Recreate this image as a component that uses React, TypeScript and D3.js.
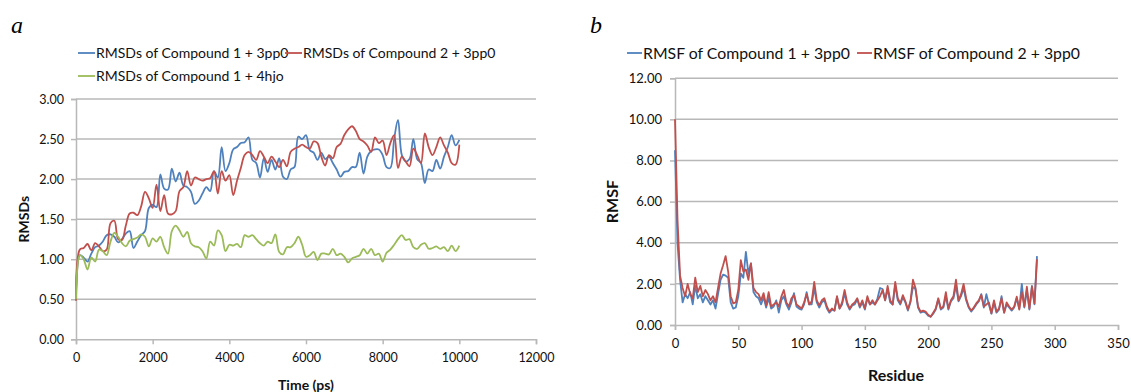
import React, { useEffect, useRef } from 'react';
import * as d3 from 'd3';

// panel a: RMSDs sampled every 100 ps
const timePs = d3.range(0, 10001, 100);

const rmsdC1_3pp0 = [
  0.50, 1.05, 1.02, 0.97, 1.07, 1.15, 1.17, 1.22, 1.30, 1.31,
  1.28, 1.21, 1.25, 1.32, 1.35, 1.14, 1.22, 1.30, 1.35, 1.64,
  1.68, 1.65, 2.06, 1.88, 1.87, 2.13, 1.97, 2.08, 1.92, 1.90,
  1.84, 1.69, 1.73, 1.82, 1.90, 1.85, 2.10, 2.02, 2.40, 2.10,
  2.20, 2.37, 2.40, 2.45, 2.46, 2.52, 2.24, 2.20, 2.02, 2.26,
  2.09, 2.24, 2.12, 2.26, 2.03, 2.00, 2.12, 2.15, 2.53, 2.50,
  2.55, 2.36, 2.33, 2.24, 2.33, 2.25, 2.28, 2.20, 2.12, 2.03,
  2.09, 2.10, 2.15, 2.15, 2.33, 2.07, 2.28, 2.35, 2.37, 2.37,
  2.30, 2.15, 2.14, 2.50, 2.74, 2.30, 2.22, 2.25, 2.50, 2.25,
  2.20, 1.95, 2.12, 2.10, 2.24, 2.13, 2.28, 2.40, 2.55, 2.42,
  2.49,
];

const rmsdC2_3pp0 = [
  0.48, 1.12, 1.14, 1.19, 1.11, 1.20, 1.16, 1.10, 1.12, 1.45,
  1.48, 1.25, 1.24, 1.42, 1.57, 1.58, 1.55, 1.66, 1.84, 1.76,
  1.64, 1.93, 1.60, 1.80, 1.57, 1.56, 1.60, 1.85, 1.90, 2.10,
  1.92, 2.02, 2.00, 1.98, 2.00, 2.01, 2.10, 1.82, 2.10, 1.98,
  2.05, 1.80, 1.98, 2.14, 2.30, 2.34, 2.30, 2.24, 2.35, 2.28,
  2.20, 2.28, 2.22, 2.15, 2.24, 2.16, 2.34, 2.38, 2.40, 2.43,
  2.40, 2.38, 2.47, 2.45, 2.28, 2.17, 2.30, 2.26, 2.40, 2.44,
  2.55, 2.62, 2.66, 2.60, 2.50, 2.47, 2.42, 2.34, 2.52, 2.45,
  2.48, 2.30, 2.45, 2.55, 2.14, 2.28, 2.22, 2.16, 2.38, 2.30,
  2.20, 2.57, 2.40, 2.30, 2.40, 2.52, 2.42, 2.33, 2.20, 2.18,
  2.43,
];

const rmsdC1_4hjo = [
  0.50, 1.05, 1.00, 0.87, 1.02, 0.97, 1.12, 1.10, 1.05, 1.22,
  1.33, 1.28, 1.20, 1.16, 1.23, 1.25, 1.27, 1.31, 1.28, 1.16,
  1.26, 1.22, 1.28, 1.15, 1.07, 1.35, 1.42, 1.36, 1.28, 1.34,
  1.20, 1.16, 1.15, 1.10, 1.01, 1.22, 1.17, 1.36, 1.30, 1.10,
  1.18, 1.17, 1.19, 1.15, 1.30, 1.28, 1.30, 1.25, 1.20, 1.17,
  1.22, 1.20, 1.31, 1.09, 1.06, 1.15, 1.15, 1.20, 1.28, 1.18,
  1.03, 1.05, 1.09, 0.99, 1.07, 1.07, 1.06, 1.13, 1.05, 1.07,
  1.03, 0.96, 1.01, 1.03, 1.05, 1.13, 1.07, 1.13, 1.05, 1.07,
  0.97, 1.08, 1.12, 1.18, 1.25, 1.30, 1.24, 1.25, 1.15, 1.13,
  1.18, 1.20, 1.13, 1.14, 1.16, 1.13, 1.15, 1.10, 1.17, 1.10,
  1.17,
];

const rmsdLabels = [
  'RMSDs of Compound 1 + 3pp0',
  'RMSDs of Compound 2 + 3pp0',
  'RMSDs of Compound 1 + 4hjo',
];

// panel b: RMSF per residue (every second residue)
const residues = d3.range(0, 287, 2);

const rmsfC1 = [
  8.50, 3.95, 2.20, 1.10, 1.50, 1.30, 1.60, 1.00, 1.90, 1.30,
  1.50, 1.10, 1.40, 1.20, 1.00, 1.20, 0.80, 1.50, 2.20, 2.45,
  2.40, 2.30, 1.10, 0.80, 0.85, 1.40, 2.50, 2.30, 3.56, 2.50,
  3.00, 1.60, 1.40, 1.30, 1.00, 1.35, 0.85, 1.30, 0.80, 0.90,
  1.20, 0.60, 1.20, 1.40, 1.00, 0.75, 1.10, 1.55, 0.90, 0.80,
  0.75, 1.00, 1.60, 1.00, 1.00, 1.80, 1.10, 0.85, 1.10, 1.20,
  0.80, 0.60, 0.75, 0.70, 1.35, 0.80, 1.00, 1.55, 1.00, 0.75,
  0.95, 1.00, 1.25, 0.85, 1.10, 0.75, 1.30, 1.00, 1.10, 1.00,
  1.30, 1.80, 1.75, 1.20, 1.75, 1.10, 1.00, 1.95, 1.20, 1.00,
  1.35, 1.10, 0.70, 1.10, 1.85, 1.75, 0.85, 0.60, 0.65, 0.60,
  0.45, 0.40, 0.55, 0.75, 1.25, 0.75, 0.85, 1.40, 0.75, 1.15,
  1.30, 1.90, 1.15, 1.40, 1.80, 1.20, 0.85, 0.65, 0.80, 1.00,
  1.15, 1.50, 0.85, 1.50, 1.00, 0.55, 1.10, 0.60, 0.75, 1.40,
  0.60, 1.00, 0.85, 0.70, 0.85, 1.30, 0.80, 2.00, 0.85, 1.70,
  0.75, 1.90, 1.00, 3.35,
];

const rmsfC2 = [
  10.0, 5.10, 2.40, 1.80, 1.40, 2.00, 1.50, 1.30, 2.30, 1.60,
  1.90, 1.40, 1.70, 1.50, 1.20, 1.40, 1.10, 1.80, 2.50, 2.90,
  3.35, 2.60, 1.40, 1.05, 1.10, 1.70, 3.15, 2.60, 2.70, 2.20,
  3.00, 1.80, 1.60, 1.50, 1.20, 1.55, 0.95, 1.60, 0.90, 1.00,
  1.10, 0.90, 1.38, 1.70, 1.10, 0.90, 1.30, 1.45, 1.00, 0.90,
  0.80, 1.10, 1.50, 1.00, 1.15, 2.10, 1.20, 0.95, 1.20, 1.30,
  0.90, 0.65, 0.80, 0.70, 1.40, 0.80, 1.10, 1.70, 1.10, 0.80,
  1.00, 1.10, 1.30, 0.90, 1.20, 0.80, 1.40, 1.00, 1.20, 1.00,
  1.20, 1.40, 1.70, 1.20, 1.90, 1.20, 1.00, 2.10, 1.30, 1.05,
  1.45, 1.15, 0.75, 1.15, 2.20, 1.80, 0.90, 0.65, 0.70, 0.65,
  0.50, 0.40, 0.60, 0.80, 1.30, 0.80, 0.90, 1.60, 0.80, 1.20,
  1.40, 2.20, 1.20, 1.50, 2.00, 1.30, 0.90, 0.70, 0.85, 1.05,
  1.20, 1.46, 0.90, 1.00, 1.10, 0.57, 1.20, 0.65, 0.80, 1.30,
  0.60, 1.10, 0.90, 0.75, 0.90, 1.38, 0.75, 1.60, 0.90, 1.86,
  0.80, 1.86, 1.05, 3.20,
];

const rmsfLabels = ['RMSF of Compound 1 + 3pp0', 'RMSF of Compound 2 + 3pp0'];

const BLUE = '#4f81bd';
const RED = '#c0504d';
const GREEN = '#9bbb59';
const GRID = '#b8b8b8';
const INK = '#111';
const FONT = 'Lato, "Open Sans", sans-serif';

const App = () => {
  const ref = useRef<SVGSVGElement>(null);

  useEffect(() => {
    const svg = d3.select(ref.current);
    svg.selectAll('*').remove();

    // ---------- panel a ----------
    const xa = d3.scaleLinear().domain([0, 12000]).range([76, 536]);
    const ya = d3.scaleLinear().domain([0, 3]).range([339.3, 99]);

    const ga = svg.append('g');

    ga.append('g')
      .selectAll('line')
      .data(d3.range(0.5, 3.01, 0.5))
      .join('line')
      .attr('x1', xa(0)).attr('x2', xa(12000))
      .attr('y1', d => ya(d)).attr('y2', d => ya(d))
      .attr('stroke', GRID).attr('stroke-width', 1.5);

    ga.append('g')
      .attr('transform', `translate(0,${ya(0)})`)
      .call(d3.axisBottom(xa).tickValues(d3.range(0, 12001, 2000)).tickSize(5).tickPadding(9).tickFormat(d3.format('d')))
      .call(g => g.selectAll('path,line').attr('stroke', GRID).attr('stroke-width', 1.5))
      .call(g => g.selectAll('text').attr('font-family', FONT).attr('font-size', 12.5).attr('fill', INK));

    ga.append('g')
      .attr('transform', `translate(${xa(0)},0)`)
      .call(d3.axisLeft(ya).tickValues(d3.range(0, 3.01, 0.5)).tickSize(5).tickPadding(7).tickFormat(d3.format('.2f')))
      .call(g => g.selectAll('path,line').attr('stroke', GRID).attr('stroke-width', 1.5))
      .call(g => g.selectAll('text').attr('font-family', FONT).attr('font-size', 12.5).attr('fill', INK));

    const lineA = d3.line<number>()
      .x((_, i) => xa(timePs[i]))
      .y(d => ya(d))
      .curve(d3.curveCatmullRom.alpha(0.5));

    [[rmsdC1_3pp0, BLUE], [rmsdC2_3pp0, RED], [rmsdC1_4hjo, GREEN]].forEach(([vals, c]) => {
      ga.append('path')
        .datum(vals as number[])
        .attr('fill', 'none')
        .attr('stroke', c as string)
        .attr('stroke-width', 1.8)
        .attr('d', lineA);
    });

    ga.append('text')
      .attr('transform', `translate(29,${(ya(0) + ya(3)) / 2}) rotate(-90)`)
      .attr('text-anchor', 'middle')
      .attr('font-family', FONT).attr('font-size', 14).attr('font-weight', 'bold').attr('fill', INK)
      .text('RMSDs');

    ga.append('text')
      .attr('x', 306).attr('y', 390)
      .attr('text-anchor', 'middle')
      .attr('font-family', FONT).attr('font-size', 14).attr('font-weight', 'bold').attr('fill', INK)
      .text('Time (ps)');

    const legA = [
      { x: 78, y: 53, c: BLUE },
      { x: 285, y: 53, c: RED },
      { x: 78, y: 76, c: GREEN },
    ];
    legA.forEach((p, i) => {
      ga.append('line')
        .attr('x1', p.x).attr('x2', p.x + 17)
        .attr('y1', p.y).attr('y2', p.y)
        .attr('stroke', p.c).attr('stroke-width', 1.8);
      ga.append('text')
        .attr('x', p.x + 18).attr('y', p.y)
        .attr('dy', '0.35em')
        .attr('font-family', FONT).attr('font-size', 14).attr('fill', INK)
        .text(rmsdLabels[i]);
    });

    svg.append('text')
      .attr('x', 11).attr('y', 33)
      .attr('font-family', '"Liberation Serif", serif').attr('font-style', 'italic').attr('font-size', 24)
      .text('a');

    // ---------- panel b ----------
    const xb = d3.scaleLinear().domain([0, 350]).range([675, 1118]);
    const yb = d3.scaleLinear().domain([0, 12]).range([325, 78.2]);

    const gb = svg.append('g');

    gb.append('g')
      .selectAll('line')
      .data(d3.range(2, 12.01, 2))
      .join('line')
      .attr('x1', xb(0)).attr('x2', xb(350))
      .attr('y1', d => yb(d)).attr('y2', d => yb(d))
      .attr('stroke', GRID).attr('stroke-width', 1.5);

    gb.append('g')
      .attr('transform', `translate(0,${yb(0)})`)
      .call(d3.axisBottom(xb).tickValues(d3.range(0, 351, 50)).tickSize(5).tickPadding(9).tickFormat(d3.format('d')))
      .call(g => g.selectAll('path,line').attr('stroke', GRID).attr('stroke-width', 1.5))
      .call(g => g.selectAll('text').attr('font-family', FONT).attr('font-size', 13).attr('fill', INK));

    gb.append('g')
      .attr('transform', `translate(${xb(0)},0)`)
      .call(d3.axisLeft(yb).tickValues(d3.range(0, 12.01, 2)).tickSize(5).tickPadding(8).tickFormat(d3.format('.2f')))
      .call(g => g.selectAll('path,line').attr('stroke', GRID).attr('stroke-width', 1.5))
      .call(g => g.selectAll('text').attr('font-family', FONT).attr('font-size', 13).attr('fill', INK));

    const lineB = d3.line<number>()
      .x((_, i) => xb(residues[i]))
      .y(d => yb(d));

    [[rmsfC1, BLUE], [rmsfC2, RED]].forEach(([vals, c]) => {
      gb.append('path')
        .datum(vals as number[])
        .attr('fill', 'none')
        .attr('stroke', c as string)
        .attr('stroke-width', 1.8)
        .attr('stroke-linejoin', 'round')
        .attr('d', lineB);
    });

    gb.append('text')
      .attr('transform', `translate(618,${(yb(0) + yb(12)) / 2}) rotate(-90)`)
      .attr('text-anchor', 'middle')
      .attr('font-family', FONT).attr('font-size', 16).attr('font-weight', 'bold').attr('fill', INK)
      .text('RMSF');

    gb.append('text')
      .attr('x', 896).attr('y', 381)
      .attr('text-anchor', 'middle')
      .attr('font-family', FONT).attr('font-size', 16).attr('font-weight', 'bold').attr('fill', INK)
      .text('Residue');

    const legB = [
      { x: 627, c: BLUE },
      { x: 857, c: RED },
    ];
    legB.forEach((p, i) => {
      gb.append('line')
        .attr('x1', p.x).attr('x2', p.x + 15)
        .attr('y1', 53).attr('y2', 53)
        .attr('stroke', p.c).attr('stroke-width', 1.8);
      gb.append('text')
        .attr('x', p.x + 16).attr('y', 53)
        .attr('dy', '0.35em')
        .attr('font-family', FONT).attr('font-size', 15.8).attr('fill', INK)
        .text(rmsfLabels[i]);
    });

    svg.append('text')
      .attr('x', 590).attr('y', 33)
      .attr('font-family', '"Liberation Serif", serif').attr('font-style', 'italic').attr('font-size', 24)
      .text('b');
  }, []);

  return (
    <svg
      ref={ref}
      width={1131}
      height={392}
      style={{ position: 'absolute', left: 0, top: 0, background: '#fff' }}
    />
  );
};

export default App;
